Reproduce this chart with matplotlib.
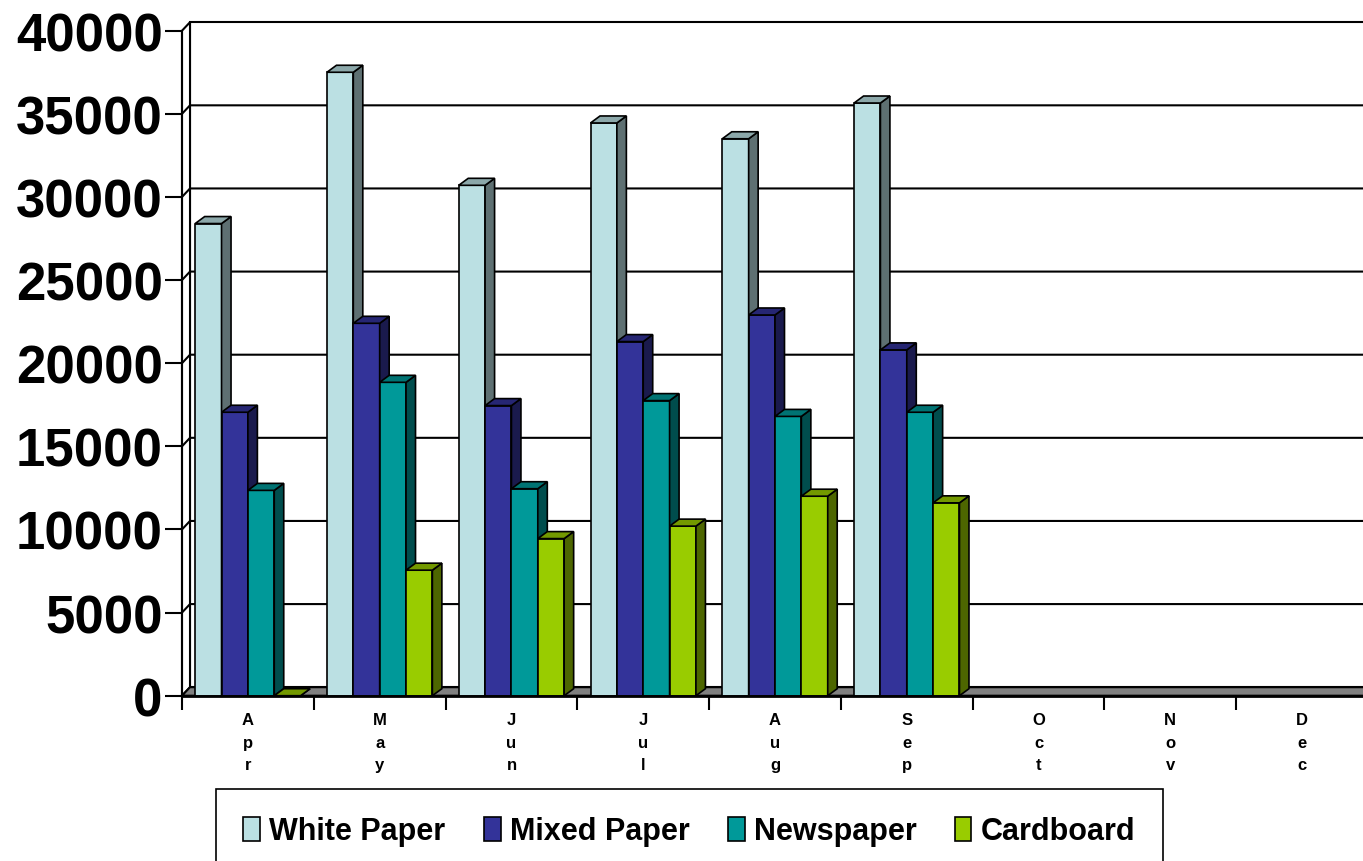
import numpy as np
import matplotlib.pyplot as plt
from matplotlib.patches import Polygon, Patch
from matplotlib.colors import to_rgb

months = ['Apr', 'May', 'Jun', 'Jul', 'Aug', 'Sep', 'Oct', 'Nov', 'Dec']
series = ['White Paper', 'Mixed Paper', 'Newspaper', 'Cardboard']
white_paper = [28400, 37500, 30700, 34450, 33500, 35650]
mixed_paper = [17050, 22400, 17450, 21300, 22900, 20800]
newspaper = [12350, 18850, 12450, 17750, 16800, 17050]
cardboard = [0, 7550, 9450, 10200, 12000, 11600]
colors = ['#BBE0E3', '#333399', '#009999', '#99CC00']
yticks = list(range(0, 40001, 5000))

plt.rcParams['font.family'] = ['Liberation Sans', 'DejaVu Sans']

W, H = 1363, 862
fig = plt.figure(figsize=(W / 100, H / 100), dpi=100)

# front plane of the 3d box, in pixels
x0, x1 = 182, 1368
y0, y1 = 696.7, 31.7
ax = fig.add_axes([x0 / W, 1 - y0 / H, (x1 - x0) / W, (y0 - y1) / H])
n = len(months)
ax.set_xlim(0, n)
ax.set_ylim(0, 40000)
ax.patch.set_visible(False)

ux = (x1 - x0) / n          # px per category
uy = (y0 - y1) / 40000      # px per unit value
wdx, wdy = 8 / ux, 8.5 / uy  # depth of the walls
bdx, bdy = 9.5 / ux, 7 / uy  # depth of the bars


def shade(c, f):
    r, g, b = to_rgb(c)
    return (r * f, g * f, b * f)


# walls and floor
top = yticks[-1]
ax.add_patch(Polygon([(wdx, wdy), (n + wdx, wdy), (n + wdx, top + wdy), (wdx, top + wdy)],
                     fc='white', ec='black', lw=1.5, zorder=0, clip_on=False))
ax.add_patch(Polygon([(0, 0), (wdx, wdy), (wdx, top + wdy), (0, top)],
                     fc='white', ec='black', lw=1.5, zorder=0, clip_on=False))
for v in yticks[1:-1]:
    ax.plot([0, wdx, n + wdx], [v, v + wdy, v + wdy], color='black', lw=1.5,
            zorder=1, clip_on=False)
ax.add_patch(Polygon([(0, 0), (n, 0), (n + wdx, wdy), (wdx, wdy)],
                     fc='#808080', ec='black', lw=1.5, zorder=2, clip_on=False))

# bars
data = [white_paper, mixed_paper, newspaper, cardboard]
w = 0.2
for j, vals in enumerate(data):
    z = 3 + j
    lefts = np.arange(len(vals)) + 0.1 + j * w
    ax.bar(lefts, vals, width=w, align='edge', color=colors[j], edgecolor='black',
           lw=1.2, zorder=z)
    for l, v in zip(lefts, vals):
        r = l + w
        ax.add_patch(Polygon([(r, 0), (r + bdx, bdy), (r + bdx, v + bdy), (r, v)],
                             fc=shade(colors[j], 0.5), ec='black', lw=1.2, zorder=z,
                             clip_on=False))
        ax.add_patch(Polygon([(l, v), (r, v), (r + bdx, v + bdy), (l + bdx, v + bdy)],
                             fc=shade(colors[j], 0.75), ec='black', lw=1.2, zorder=z,
                             clip_on=False))

# axes
for s in ['top', 'right']:
    ax.spines[s].set_visible(False)
ax.spines['left'].set_linewidth(1.5)
ax.spines['bottom'].set_linewidth(2)
ax.spines['bottom'].set_zorder(10)
ax.set_yticks(yticks)
ax.set_yticklabels([str(v) for v in yticks], fontsize=38, fontweight='bold')
ax.tick_params(axis='y', length=12, width=1.5, pad=2)
ax.set_xticks(range(n + 1))
ax.set_xticklabels([])
ax.tick_params(axis='x', which='major', length=10, width=1.5)
ax.set_xticks(np.arange(n) + 0.5, minor=True)
ax.set_xticklabels(['\n'.join(m) for m in months], minor=True, fontsize=12,
                   fontweight='bold', linespacing=1.62)
ax.tick_params(axis='x', which='minor', length=0, pad=12)

handles = [Patch(fc=c, ec='black', lw=1.2) for c in colors]
leg = fig.legend(handles, series, loc='upper left', bbox_to_anchor=(216 / W, 1 - 790 / H),
                 ncol=4, frameon=True, fancybox=False, edgecolor='black', framealpha=1,
                 prop={'weight': 'bold', 'size': 22}, handlelength=0.55, handleheight=0.8,
                 handletextpad=0.3, columnspacing=1.25, borderpad=0.9, borderaxespad=0)
leg.get_frame().set_linewidth(1.2)

fig.savefig('out.png', dpi=100)
